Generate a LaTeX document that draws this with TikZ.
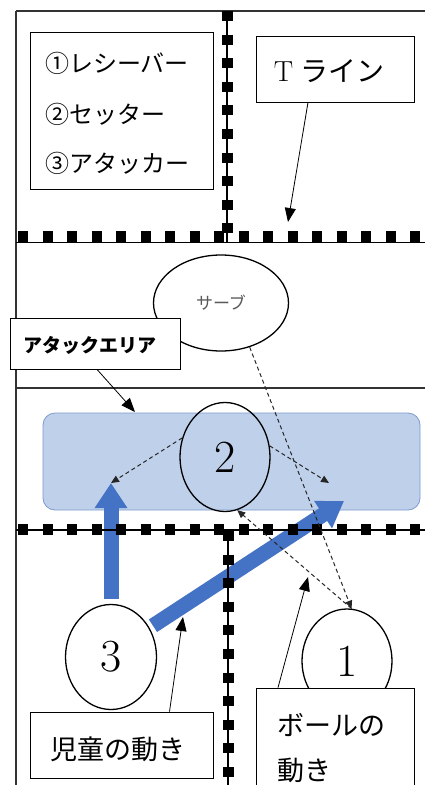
\documentclass[tikz,border=0pt]{standalone}
\usepackage{fontspec}
\newfontfamily\cjk{Noto Sans CJK JP}
\usetikzlibrary{shapes.geometric,arrows.meta}
\definecolor{areafill}{RGB}{191,208,234}
\definecolor{areadraw}{RGB}{125,155,205}
\definecolor{moveblue}{RGB}{68,114,196}
\begin{document}
\begin{tikzpicture}[x=1pt,y=-1pt,
  framel/.style={draw=black!80,line width=1.5pt},
  thinl/.style={draw=black,line width=1.4pt},
  hsquares/.style={draw=black,line width=11pt,dash pattern=on 10pt off 14.5pt},
  vsquares/.style={draw=black,line width=11pt,dash pattern=on 10pt off 13.6pt},
  labelbox/.style={draw=black,fill=white,line width=0.8pt,rectangle,inner sep=0pt},
  player/.style={ellipse,draw=black,line width=1.3pt,inner sep=0pt,font=\fontsize{46}{46}\selectfont},
  balldash/.style={draw=black!85,line width=1pt,dash pattern=on 4pt off 3pt,-{Triangle[length=8pt,width=7pt]}},
  pointer/.style={draw=black,line width=0.8pt,-{Triangle[length=14pt,width=11pt]}},
  movearrow/.style={draw=moveblue,line width=15pt,-{Triangle[length=25pt,width=31pt]}},
  jtext/.style={font=\cjk\fontsize{27}{27}\selectfont,inner sep=0pt},
  legtext/.style={font=\cjk\fontsize{24}{24}\selectfont,inner sep=0pt,anchor=west}
]
\useasboundingbox (0,0) rectangle (425,785);
\fill[white] (0,0) rectangle (425,785);

% named free ends
\coordinate (lt) at (111,483);
\coordinate (rt) at (329,483);
\coordinate (rmove) at (344,501);
\coordinate (tline) at (288,222);
\coordinate (areaptr) at (135,412);
\coordinate (cmove) at (183,617);
\coordinate (bmove) at (308,577);

% attack area
\node[rectangle,rounded corners=12pt,fill=areafill,draw=areadraw,line width=0.8pt,
      minimum width=377pt,minimum height=97pt] (area) at (231.5,461.5) {};

% players and serve
\node[player,fill=white,minimum width=135pt,minimum height=96pt,
      font=\cjk\fontsize{17}{17}\selectfont,text=black!65] (serve) at (221,303) {サーブ};
\node[player,minimum width=90pt,minimum height=109pt] (two) at (225,457) {2};
\node[player,fill=white,minimum width=91pt,minimum height=105pt] (three) at (111,657) {3};
\node[player,fill=white,minimum width=90pt,minimum height=104pt] (one) at (347,661) {1};

% movements of pupils
\draw[movearrow,shorten <=5pt] (three.north) -- (lt);
\draw[movearrow,shorten <=4pt] (three.37) -- (rmove);

% court frame
\draw[framel] (16,11) -- (425,11);
\draw[framel] (16,11) -- (16,785);
\draw[framel] (16,388) -- (425,388);

% T lines
\draw[thinl] (16,242.5) -- (425,242.5);
\draw[thinl] (227,11) -- (227,242);
\draw[hsquares] (18,236.5) -- (425,236.5);
\draw[vsquares] (227,11) -- (227,240);
\draw[thinl] (16,530) -- (425,530);
\draw[thinl] (228,530) -- (228,785);
\draw[hsquares] (18,529) -- (425,529);
\draw[vsquares] (228,531) -- (228,785);

% ball movement
\draw[balldash] (serve.-57) -- (one.85);
\draw[balldash] (one.85) -- (two.-77);
\draw[balldash] (two.156) -- (lt);
\draw[balldash] (two.14) -- (rt);

% legend
\node[labelbox,minimum width=183pt,minimum height=157pt] (legend) at (121.5,110.5) {};
\node[legtext] (r1) at (45,63) {①レシーバー};
\node[legtext] (r2) at (45,114) {②セッター};
\node[legtext] (r3) at (45,163) {③アタッカー};

% T line label
\node[labelbox,minimum width=158pt,minimum height=66pt] (tbox) at (335,69) {};
\node[inner sep=0pt] (ttext) at (329,71) {\fontsize{29}{29}\selectfont T\hspace{7pt}{\cjk\fontsize{28}{28}\selectfont ライン}};
\draw[pointer] ([xshift=-27pt]tbox.south) -- (tline);

% attack area label
\node[labelbox,minimum width=170pt,minimum height=51pt] (abox) at (95,343.5) {};
\node[inner sep=0pt,font=\cjk\bfseries\fontsize{19}{19}\selectfont] (atext) at (90,345) {アタックエリア};
\draw[pointer] ([xshift=2pt]abox.south) -- (areaptr);

% pupils label
\node[labelbox,minimum width=183pt,minimum height=66pt] (cbox) at (121.5,745) {};
\node[jtext] (ctext) at (118,749) {児童の動き};
\draw[pointer] ([xshift=48pt]cbox.north) -- (cmove);

% ball label
\node[labelbox,minimum width=158pt,minimum height=112pt] (bbox) at (335,744) {};
\node[jtext,anchor=west] (btext1) at (277,725) {ボールの};
\node[jtext,anchor=west] (btext2) at (277,770) {動き};
\draw[pointer] ([xshift=-57pt]bbox.north) -- (bmove);
\end{tikzpicture}
\end{document}
